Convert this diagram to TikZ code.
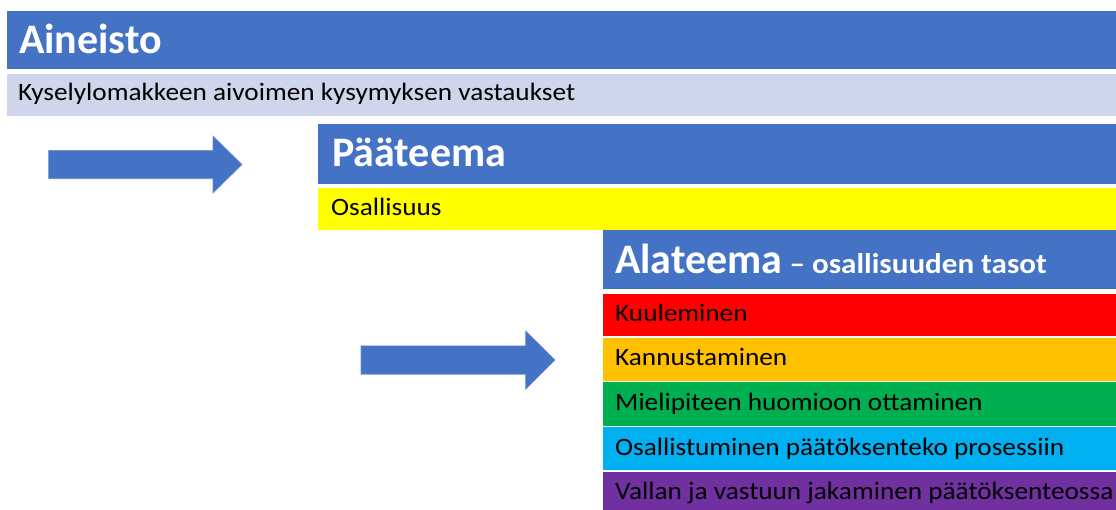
\documentclass[tikz,border=0pt]{standalone}
\usepackage{fontspec}
\setmainfont{Carlito}
\newfontfamily\widefam[FakeStretch=1.09]{Carlito}
\definecolor{hdrblue}{HTML}{4472C4}
\definecolor{lightbar}{HTML}{CFD5EA}
\definecolor{ylw}{HTML}{FFFF00}
\definecolor{rd}{HTML}{FF0000}
\definecolor{org}{HTML}{FFC000}
\definecolor{grn}{HTML}{00B050}
\definecolor{lblue}{HTML}{00B0F0}
\definecolor{prp}{HTML}{7030A0}
\begin{document}
\begin{tikzpicture}[x=1pt,y=-1pt,
  bar/.style={anchor=north west,inner sep=0pt,outer sep=0pt,draw=none},
  bigtxt/.style={anchor=base west,inner sep=0pt,text=white,font=\fontsize{42}{48}\selectfont\bfseries},
  smalltxt/.style={anchor=base west,inner sep=0pt,text=black,font=\widefam\fontsize{25}{30}\selectfont},
  blockarrow/.style={fill=hdrblue,draw=hdrblue!80!white,line width=0.6pt}]
\useasboundingbox (0,0) rectangle (1116,509);
\clip (0,0) rectangle (1116,509);
% Aineisto
\node[bar,fill=hdrblue,minimum width=1110pt,minimum height=57.7pt] (ain) at (7,11) {};
\node[bigtxt] (aint) at (19,53.3) {Aineisto};
\node[bar,fill=lightbar,minimum width=1110pt,minimum height=41.7pt] (kys) at (7,74) {};
\node[smalltxt] (kyst) at (18,100.7) {Kyselylomakkeen aivoimen kysymyksen vastaukset};
% Paateema
\node[bar,fill=hdrblue,minimum width=800pt,minimum height=59.5pt] (paa) at (318.3,124) {};
\node[bigtxt] (paat) at (332,166.7) {Pääteema};
\node[bar,fill=ylw,minimum width=800pt,minimum height=41.8pt] (osa) at (318.3,188.2) {};
\node[smalltxt] (osat) at (331,215.7) {Osallisuus};
% Alateema
\node[bar,fill=hdrblue,minimum width=515pt,minimum height=59pt] (ala) at (603.3,230) {};
\node[bigtxt] (alat) at (615,273.7) {Alateema\widefam\fontsize{28.5}{32}\selectfont{} – osallisuuden tasot};
\node[bar,fill=rd,minimum width=515pt,minimum height=42pt] (b1) at (603.3,294.3) {};
\node[smalltxt] (t1) at (615,321.3) {Kuuleminen};
\node[bar,fill=org,minimum width=515pt,minimum height=43.2pt] (b2) at (603.3,337.5) {};
\node[smalltxt] (t2) at (615,365.8) {Kannustaminen};
\node[bar,fill=grn,minimum width=515pt,minimum height=43.3pt] (b3) at (603.3,382.2) {};
\node[smalltxt] (t3) at (615,410.3) {Mielipiteen huomioon ottaminen};
\node[bar,fill=lblue,minimum width=515pt,minimum height=43.4pt] (b4) at (603.3,426.8) {};
\node[smalltxt] (t4) at (615,455) {Osallistuminen päätöksenteko prosessiin};
\node[bar,fill=prp,minimum width=515pt,minimum height=40pt] (b5) at (603.3,471.5) {};
\node[smalltxt] (t5) at (615,499.5) {Vallan ja vastuun jakaminen päätöksenteossa};
% block arrows
\draw[blockarrow] (48.6,150.3) -- (213,150.3) -- (213,136) -- (242,164.5) -- (213,193) -- (213,178.7) -- (48.6,178.7) -- cycle;
\draw[blockarrow] (361,345.8) -- (525.7,345.8) -- (525.7,331) -- (555,360) -- (525.7,389.2) -- (525.7,374.2) -- (361,374.2) -- cycle;
\end{tikzpicture}
\end{document}
